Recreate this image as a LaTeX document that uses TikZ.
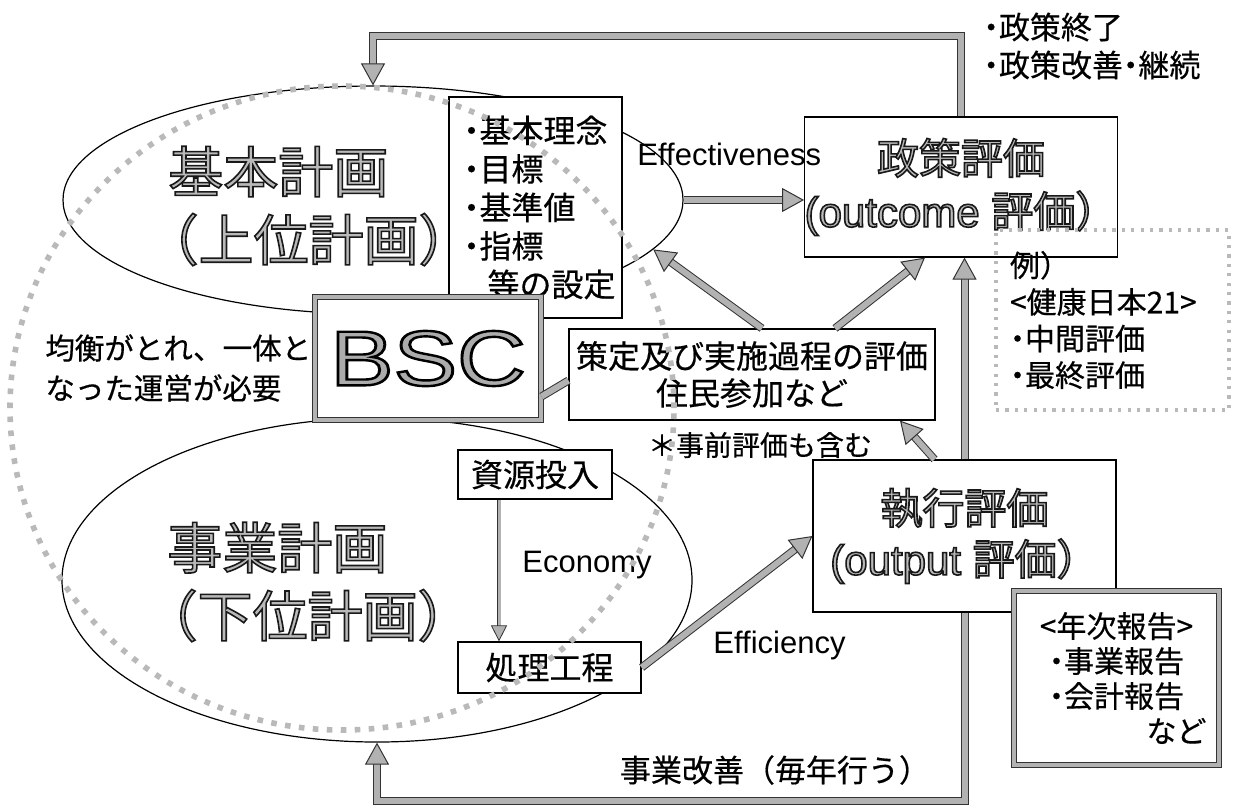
\documentclass[tikz,border=0pt]{standalone}
\usepackage{fontspec}
\setmainfont{Noto Sans CJK JP}[FakeBold=0.5]
\newfontfamily\cjkplain{Noto Sans CJK JP}
\newfontfamily\lat{Liberation Sans}
\usetikzlibrary{shapes.geometric,arrows.meta,calc}
\newcommand\bul{\makebox[0.5em][c]{・}}
\newcommand\fsz[2]{\fontsize{#1}{#2}\selectfont}
\newcommand\hollow[1]{{\cjkplain\color{gray!55}\special{pdf:literal direct 0.1 G 0.8 w 2 Tr}#1\special{pdf:literal direct 0 Tr}}}
\tikzset{
 box/.style={draw=black, line width=0.6pt, fill=white, inner sep=0pt},
 thickbox/.style={draw=black!80, line width=0.5pt, double=gray!60, double distance=2pt, fill=white, inner sep=0pt},
 oval/.style={ellipse, draw=black, line width=0.6pt, inner sep=0pt},
 garrow/.style={draw=gray!60, line width=3pt, -{Triangle[length=11pt,width=12pt,fill=gray!60,color=black!80,line width=0.5pt]}, preaction={draw=black!80, line width=4pt, shorten >=10pt, -}},
 gline/.style={draw=gray!60, line width=3pt, preaction={draw=black!80, line width=4pt}},
 garrowthin/.style={draw=gray!60, line width=1.5pt, -{Triangle[length=8pt,width=8pt,fill=gray!60,color=black!80,line width=0.4pt]}, preaction={draw=black!80, line width=2.2pt, shorten >=7pt, -}},
 dotring/.style={ellipse, draw=gray!55, line width=2.8pt, dash pattern=on 2.8pt off 4.2pt, inner sep=0pt},
 dotbox/.style={draw=gray!55, line width=1.6pt, dash pattern=on 1.6pt off 3.1pt, inner sep=0pt},
 lbl/.style={inner sep=0pt},
}
\begin{document}
\begin{tikzpicture}[x=0.5pt,y=-0.5pt]
\useasboundingbox (0,0) rectangle (1235,805);
% plans
\node[oval, minimum width=310pt, minimum height=114pt] (upper) at (373,200) {};
\node[oval, minimum width=315pt, minimum height=162pt] (lower) at (377,580) {};
\node[lbl, align=left, anchor=west, font=\fsz{27.5pt}{34pt}] (uppertxt) at (168,206) {\hollow{基本計画}\\\hspace*{-0.45em}\hollow{（上位計画\rlap{）}}};
\node[lbl, align=left, anchor=west, font=\fsz{27.5pt}{34pt}] (lowertxt) at (167,582) {\hollow{事業計画}\\\hspace*{-0.45em}\hollow{（下位計画\rlap{）}}};
% boxes
\node[box, minimum width=86.5pt, minimum height=110.5pt, text width=72pt, align=left, font=\fsz{16pt}{19.25pt}] (goals) at (535.5,207.5) {\bul 基本理念\\\bul 目標\\\bul 基準値\\\bul 指標\\\hspace*{0.75em}等の設定};
\node[thickbox, minimum width=113pt, minimum height=61.5pt] (bsc) at (428,358.5) {{\lat\fsz{39pt}{39pt}\color{gray!65}\scalebox{1.22}[1]{\special{pdf:literal direct 0 G 1.2 w 2 Tr}BSC\special{pdf:literal direct 0 Tr}}}};
\node[lbl, align=left, anchor=west, font=\fsz{14.75pt}{20pt}] (balance) at (45,368) {均衡がとれ、一体と\\なった運営が必要};
\node[box, minimum width=183pt, minimum height=45.5pt, align=center, font=\fsz{16pt}{18.5pt}] (strat) at (752,374.5) {策定及び実施過程の評価\\住民参加など};
\node[lbl, font=\fsz{14pt}{14pt}] (pre) at (760,445) {＊事前評価も含む};
\node[box, minimum width=77pt, minimum height=24.5pt, font=\fsz{16pt}{16pt}] (res) at (535,474.5) {資源投入};
\node[box, minimum width=91.5pt, minimum height=25.5pt, font=\fsz{16pt}{16pt}] (proc) at (549.5,667.5) {処理工程};
\node[box, minimum width=156pt, minimum height=70pt, align=center, font=\fsz{21pt}{26.5pt}] (outcome) at (961,187) {\hollow{政策評価}\\\hollow{{\lat (outcome }評価）}};
\node[box, minimum width=151.5pt, minimum height=76pt, align=center, font=\fsz{21pt}{25.5pt}] (exec) at (964.5,536) {\hollow{執行評価}\\\hollow{{\lat (output }評価）}};
\node[lbl, align=left, anchor=west, font=\fsz{15.5pt}{19pt}] (policy) at (983,46) {\bul 政策終了\\\bul 政策改善\bul 継続};
\node[dotbox, minimum width=116.5pt, minimum height=90pt, text width=102.5pt, align=left, font=\fsz{15pt}{18.3pt}] (example) at (1112.5,320) {例）\\<健康日本21>\\\bul 中間評価\\\bul 最終評価};
\node[thickbox, minimum width=102.5pt, minimum height=87pt, text width=90pt, align=center, font=\fsz{15pt}{17.5pt}] (annual) at (1116.5,678) {<年次報告>\\\bul 事業報告\\\bul 会計報告\\\makebox[90pt][r]{など}};
% labels
\node[lbl, anchor=base west, font=\lat\fsz{15.5pt}{15.5pt}] (eff) at (637,165) {Effectiveness};
\node[lbl, anchor=base west, font=\lat\fsz{15.5pt}{15.5pt}] (econ) at (522,572) {Economy};
\node[lbl, anchor=base west, font=\lat\fsz{15.5pt}{15.5pt}] (effi) at (713,653) {Efficiency};
\node[lbl, font=\fsz{15.5pt}{15.5pt}] (kaizen) at (775,770) {事業改善（毎年行う）};
% connectors
\draw[garrow] (outcome.north) -- ++(0,-80) -| (upper.north);
\draw[garrow] (exec.south) -- ++(0,188) -| (lower.south);
\draw[garrow] (upper.east) -- (upper.east -| outcome.west);
\draw[garrow] (exec.north) -- (exec.north |- outcome.south);
\draw[garrow] ([xshift=5pt]strat.north) -- (upper.-10);
\draw[garrow] ([xshift=41.5pt]strat.north) -- ([xshift=-18pt]outcome.south);
\draw[garrow] ([xshift=-15pt]exec.north) -- ([xshift=74pt]strat.south);
\draw[garrow] (proc.east) -- (exec.west);
\draw[garrowthin] ([xshift=-18pt]res.south) -- ([xshift=-18pt]res.south |- proc.north);
\draw[gline] ([yshift=-19pt]bsc.east) -- ([yshift=-3pt]strat.west);
% balance ring
\node[dotring, minimum width=332pt, minimum height=322pt] (ring) at (342,408) {};
\end{tikzpicture}
\end{document}
